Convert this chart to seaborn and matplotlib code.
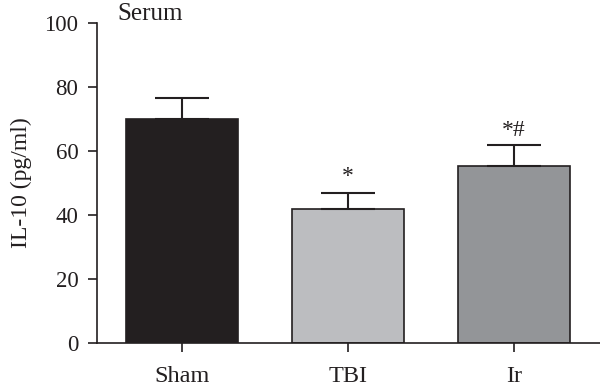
import matplotlib
matplotlib.use("Agg")
import matplotlib.pyplot as plt
import seaborn as sns

groups = ["Sham", "TBI", "Ir"]
means = [70.1, 41.8, 55.3]
sem = [6.4, 5.2, 6.6]
bar_colors = ["#231f20", "#bcbdc0", "#939598"]
marks = ["", "*", "*#"]
mark_y = [0, 52, 66.5]

sns.set_theme(style="ticks")
plt.rcParams["font.family"] = ["Liberation Serif"]

fig, ax = plt.subplots(figsize=(6, 3.91), dpi=100)
fig.subplots_adjust(left=0.162, right=1.0, top=0.941, bottom=0.123)

sns.barplot(x=groups, y=means, hue=groups, palette=bar_colors, legend=False,
            saturation=1, width=0.675, edgecolor="#231f20", linewidth=1.2, ax=ax)
ax.errorbar(range(len(groups)), means, yerr=[[0] * len(sem), sem], fmt="none",
            ecolor="#231f20", elinewidth=1.5, capsize=19.5, capthick=1.5)

for i, (m, y) in enumerate(zip(marks, mark_y)):
    if m:
        ax.text(i, y, m, ha="center", va="center", fontsize=17, color="#231f20")

ax.text(-0.39, 101, "Serum", ha="left", va="baseline", fontsize=18, color="#231f20")

ax.set_xlim(-0.512, 2.518)
ax.set_ylim(0, 100)
ax.set_yticks([0, 20, 40, 60, 80, 100])
ax.set_ylabel("IL-10 (pg/ml)", fontsize=17, color="#231f20", labelpad=9)
ax.set_xlabel("")
ax.tick_params(axis="both", direction="out", length=6.5, width=1.2, colors="#231f20",
               labelsize=16.5, pad=7)
ax.tick_params(axis="x", labelsize=17.5, pad=10)
for s in ["top", "right"]:
    ax.spines[s].set_visible(False)
for s in ["left", "bottom"]:
    ax.spines[s].set_linewidth(1.2)
    ax.spines[s].set_color("#231f20")

fig.savefig("out.png", dpi=100)
